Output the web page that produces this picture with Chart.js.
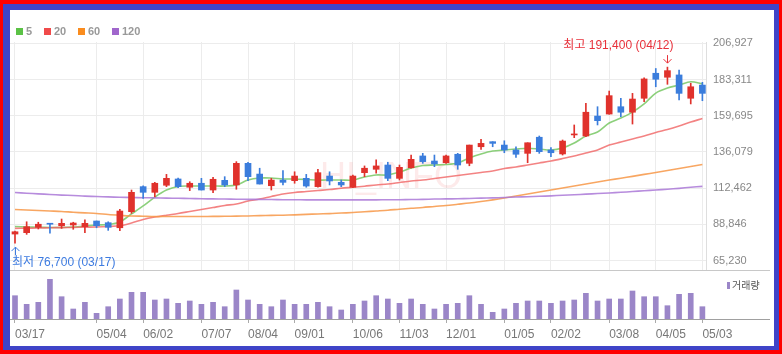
<!DOCTYPE html>
<html><head><meta charset="utf-8">
<script src="https://cdn.jsdelivr.net/npm/chart.js@4.4.0/dist/chart.umd.min.js"></script>
<style>
html,body{margin:0;padding:0;background:#fff;width:782px;height:354px;overflow:hidden;}
#outer{position:absolute;left:0;top:0;width:782px;height:354px;background:#ff0000;}
#blue{position:absolute;left:3px;top:4px;width:776px;height:346px;background:#3f44c8;}
#inner{position:absolute;left:10px;top:10px;width:764px;height:336px;background:#fff;}
canvas{position:absolute;left:0;top:0;}
.sq{position:absolute;top:28px;width:7px;height:7px;}
.lt{position:absolute;top:24px;font:bold 11px 'Liberation Sans',Arial,sans-serif;color:#999;line-height:14px;}
</style></head>
<body>
<div id="outer"></div><div id="blue"></div><div id="inner"></div>
<canvas id="c1" width="782" height="354"></canvas>
<canvas id="c2" width="782" height="354"></canvas>
<div class="sq" style="left:16px;background:#5bc246"></div><div class="lt" style="left:26px">5</div>
<div class="sq" style="left:44px;background:#f04a4a"></div><div class="lt" style="left:54px">20</div>
<div class="sq" style="left:78px;background:#fa8c1e"></div><div class="lt" style="left:88px">60</div>
<div class="sq" style="left:112px;background:#a066cc"></div><div class="lt" style="left:122px">120</div>
<div style="position:absolute;left:727px;top:282px;width:3px;height:7px;background:#9b86c8"></div>
<div style="position:absolute;left:732px;top:278px;font:10px 'Noto Sans CJK KR',sans-serif;color:#555;line-height:14px">거래량</div>
<script>
// ---- data ----
const tickIndex  = [0, 7, 11, 16, 20, 24, 29, 33, 37, 42, 46, 51, 55, 59];
const tickLabels = ['03/17','05/04','06/02','07/07','08/04','09/01','10/06','11/03','12/01','01/05','02/02','03/08','04/05','05/03'];
const yTicks = [65230, 88846, 112462, 136079, 159695, 183311, 206927];
const openP  = [82600,83500,87000,89600,88000,88500,87400,91100,90000,86700, 97200,113500,109800,114400,118500,113100,115700,111300,117600,114600, 128700,121700,114100,117800,117400,118900,113500,120400,116300,113100, 122600,124800,127600,118900,125800,133500,130200,129100,134600,128700, 139500,142800,140600,137400,135200,145700,137400,134800,147200,146500, 159500,160800,165600,162000,171100,187400,184800,186300,171100,179700];
const highP  = [84500,90600,90300,89600,92400,90300,91800,91100,90600,98700, 111300,114100,116300,121500,119100,116700,118900,119600,120000,129800, 129400,125500,118900,123900,123200,121500,124800,123200,117800,121100, 127000,130900,129400,127600,134100,135200,134100,134100,135200,140600, 144400,142800,143400,139500,142100,146500,138900,143900,153700,167800, 165600,175800,171100,174300,184500,190500,191400,189500,180900,181500];
const lowP   = [76700,82400,85900,83100,86300,85700,83500,86700,85000,84800, 96100,105900,106900,113500,112800,110900,111300,109600,113500,111800, 117400,115200,111300,114600,115700,113100,113100,114600,113500,112800, 120000,122200,117400,117800,125500,128700,126500,128700,124800,127100, 137800,139500,135600,132600,129100,135200,133000,134100,145400,146100, 153700,160700,159100,154300,168900,178600,180200,170000,167400,169500];
const closeP = [84100,87400,89000,89000,89600,89800,89600,88000,87000,97600, 109800,109800,115700,118900,113500,115700,111300,118300,114600,128700, 120000,115200,117800,116300,120400,113900,122600,117200,114600,120400, 125500,127000,118900,126100,131300,129800,128300,133500,127600,140600, 141700,141700,137400,134600,142100,136300,135600,143200,147800,162000, 156500,172800,162000,170600,183700,183500,189100,174300,178600,174300];
const volume = [233000,147000,167000,397000,223000,100000,167000,57000,123000,200000, 267000,267000,190000,200000,157000,180000,147000,167000,123000,290000, 190000,147000,123000,190000,147000,147000,167000,123000,90000,147000, 180000,233000,200000,157000,200000,147000,100000,147000,157000,233000, 147000,67000,100000,157000,180000,180000,157000,180000,190000,257000, 180000,200000,200000,280000,223000,223000,133000,247000,257000,123000];
const ma5   = [87500,87200,87000,86900,86900,87200,87800,88500,88800,90500, 95700,100900,106700,111300,113600,113900,113900,113900,113900,114600, 117800,119100,119100,118500,118500,118200,117800,117800,117800,117800, 119800,121100,121100,123000,125600,127300,127600,127900,128900,132200, 134800,136700,137400,138000,138500,138000,137400,138700,141900,146500, 149100,155000,158200,162100,167400,174500,177800,179700,181900,180400];
const ma20  = [86300,86400,86500,86700,86800,86900,87100,87200,87500,88000, 89800,92100,93700,94900,96000,97300,98600,99900,101200,102200, 104100,105400,107100,108700,109700,110300,111000,111600,112500,113100, 113800,114600,115200,116200,117200,117800,118800,119800,120800,121700, 122700,123700,125300,126300,127600,128900,130200,131800,133500,135400, 137400,140600,142600,144600,146500,148800,150700,153000,155600,157900];
const ma60  = [98600,98300,97900,97600,97300,96800,96400,96000,95300,94800, 94400,94200,94000,94000,94000,94000,94000,94100,94200,94300, 94400,94600,94800,94900,95100,95400,95700,95900,96300,96600, 97100,97600,98100,98800,99400,99900,100600,101200,102000,102800, 103800,104900,106100,107400,108700,110000,111300,112600,113900,115200, 116500,117800,119000,120200,121500,122700,124000,125300,126600,127900];
const ma120 = [109700,109200,108800,108400,108000,107700,107300,107100,106800,106600, 106400,106300,106200,106000,105900,105800,105600,105500,105400,105300, 105200,105200,105100,105000,105000,104900,104900,104900,104900,104900, 104900,104900,105000,105000,105100,105200,105400,105500,105600,105800, 106000,106200,106400,106700,106900,107200,107500,107900,108200,108600, 109000,109400,109800,110300,110800,111300,111800,112400,113100,113700];
const highLabel = '최고';
const lowLabel = '최저';
const highDate = '04/12';
const lowDate = '03/17';

// ---- styles ----
const UP = '#e0322c', DOWN = '#3b7ddc';
const FONT = "'Liberation Sans', Arial, 'Noto Sans CJK KR', sans-serif";
const XMIN = -0.429, XMAX = 59.31;

const n = closeP.length;
const idx = closeP.map((_, i) => i);
const colors = idx.map(i => closeP[i] >= openP[i] ? UP : DOWN);
const fmt = v => Math.round(v).toLocaleString('en-US');
const line = (arr, color) => ({
  type: 'line', data: arr.map((v, i) => ({x: i, y: v})), borderColor: color,
  borderWidth: 1.6, pointRadius: 0, tension: 0.3, order: 3, fill: false
});

const mainPlugin = {
  id: 'mainDeco',
  beforeDatasetsDraw(chart) {
    const c = chart.ctx;
    c.save();
    c.font = "36px " + FONT;
    c.fillStyle = 'rgba(240,90,90,0.13)';
    c.textAlign = 'center'; c.textBaseline = 'middle';
    c.fillText('HI_INFO', 391, 178);
    c.restore();
  },
  afterDraw(chart) {
    const c = chart.ctx, xs = chart.scales.x, ys = chart.scales.y;
    // high
    let hi = 0, lo = 0;
    highP.forEach((v, i) => { if (v > highP[hi]) hi = i; });
    lowP.forEach((v, i) => { if (v < lowP[lo]) lo = i; });
    c.save();
    let x = Math.round(xs.getPixelForValue(hi)) + 0.5, y = ys.getPixelForValue(highP[hi]);
    c.strokeStyle = '#e8303a'; c.fillStyle = '#e8303a'; c.lineWidth = 1;
    c.beginPath(); c.moveTo(x, y - 12); c.lineTo(x, y - 4); c.stroke();
    c.beginPath(); c.moveTo(x - 4, y - 8); c.lineTo(x, y - 4); c.lineTo(x + 4, y - 8); c.stroke();
    c.font = "12px " + FONT; c.textAlign = 'right'; c.textBaseline = 'middle';
    c.fillText(highLabel + ' ' + fmt(highP[hi]) + ' (' + highDate + ')', x + 6, y - 21.5);
    // low
    x = Math.round(xs.getPixelForValue(lo)) + 0.5; y = ys.getPixelForValue(lowP[lo]);
    c.strokeStyle = '#3d7be0'; c.fillStyle = '#3d7be0';
    c.beginPath(); c.moveTo(x, y + 4); c.lineTo(x, y + 12); c.stroke();
    c.beginPath(); c.moveTo(x - 4, y + 8); c.lineTo(x, y + 4); c.lineTo(x + 4, y + 8); c.stroke();
    c.textAlign = 'left';
    c.fillText(lowLabel + ' ' + fmt(lowP[lo]) + ' (' + lowDate + ')', x - 3.5, y + 19.5);
    // separator
    c.strokeStyle = '#c8c8c8';
    c.beginPath(); c.moveTo(10, 270.5); c.lineTo(770, 270.5); c.stroke();
    c.restore();
  }
};

new Chart(document.getElementById('c1'), {
  type: 'bar',
  data: {
    datasets: [
      {type: 'bar', data: idx.map(i => ({x: i, y: [openP[i], closeP[i]]})), backgroundColor: colors,
       barThickness: 6, grouped: false, minBarLength: 1, order: 0, borderWidth: 0},
      {type: 'bar', data: idx.map(i => ({x: i, y: [lowP[i], highP[i]]})), backgroundColor: colors,
       barThickness: 1, grouped: false, order: 1, borderWidth: 0},
      line(ma120, 'rgba(170,120,215,0.85)'),
      line(ma60, 'rgba(247,150,70,0.85)'),
      line(ma20, 'rgba(240,100,100,0.8)'),
      line(ma5, 'rgba(120,200,100,0.85)')
    ]
  },
  options: {
    responsive: false, animation: false,
    layout: {padding: {left: 10, top: 42, right: 16, bottom: 84}},
    plugins: {legend: {display: false}, tooltip: {enabled: false}},
    scales: {
      x: {type: 'linear', min: XMIN, max: XMAX, offset: false,
          afterBuildTicks: s => { s.ticks = tickIndex.map(v => ({value: v})); },
          afterFit: s => { s.height = 0; },
          ticks: {display: false}, grid: {color: '#ececec', drawTicks: false, offset: false},
          border: {display: false}},
      y: {position: 'right', min: 59168, max: 207774,
          afterBuildTicks: s => { s.ticks = yTicks.map(v => ({value: v})); },
          afterFit: s => { s.width = 60; },
          ticks: {color: '#888', font: {family: FONT, size: 11}, padding: 7, callback: v => fmt(v)},
          grid: {color: '#ececec', drawTicks: false},
          border: {display: true, color: '#dedede'}}
    }
  },
  plugins: [mainPlugin]
});

const volPlugin = {
  id: 'volDeco',
  afterDraw(chart) {
    const c = chart.ctx;
    c.save(); c.strokeStyle = '#a0a0a0'; c.lineWidth = 1;
    c.beginPath(); c.moveTo(10, 319.5); c.lineTo(770, 319.5); c.stroke();
    c.restore();
  }
};

new Chart(document.getElementById('c2'), {
  type: 'bar',
  data: {datasets: [{data: idx.map(i => ({x: i, y: volume[i]})), backgroundColor: '#9b86c8',
                     barThickness: 5, borderWidth: 0}]},
  options: {
    responsive: false, animation: false,
    layout: {padding: {left: 10, top: 271, right: 76, bottom: 0}},
    plugins: {legend: {display: false}, tooltip: {enabled: false}},
    scales: {
      x: {type: 'linear', min: XMIN, max: XMAX, offset: false,
          afterBuildTicks: s => { s.ticks = tickIndex.map(v => ({value: v})); },
          afterFit: s => { s.height = 35; },
          ticks: {autoSkip: false, maxRotation: 0, align: 'start', color: '#777', padding: 4,
                  font: {family: FONT, size: 12},
                  callback: v => tickLabels[tickIndex.indexOf(v)]},
          grid: {drawOnChartArea: false, drawTicks: true, tickLength: 4, color: '#aaa', offset: false},
          border: {display: false}},
      y: {display: false, min: 0, max: 480000}
    }
  },
  plugins: [volPlugin]
});
</script>
</body></html>
